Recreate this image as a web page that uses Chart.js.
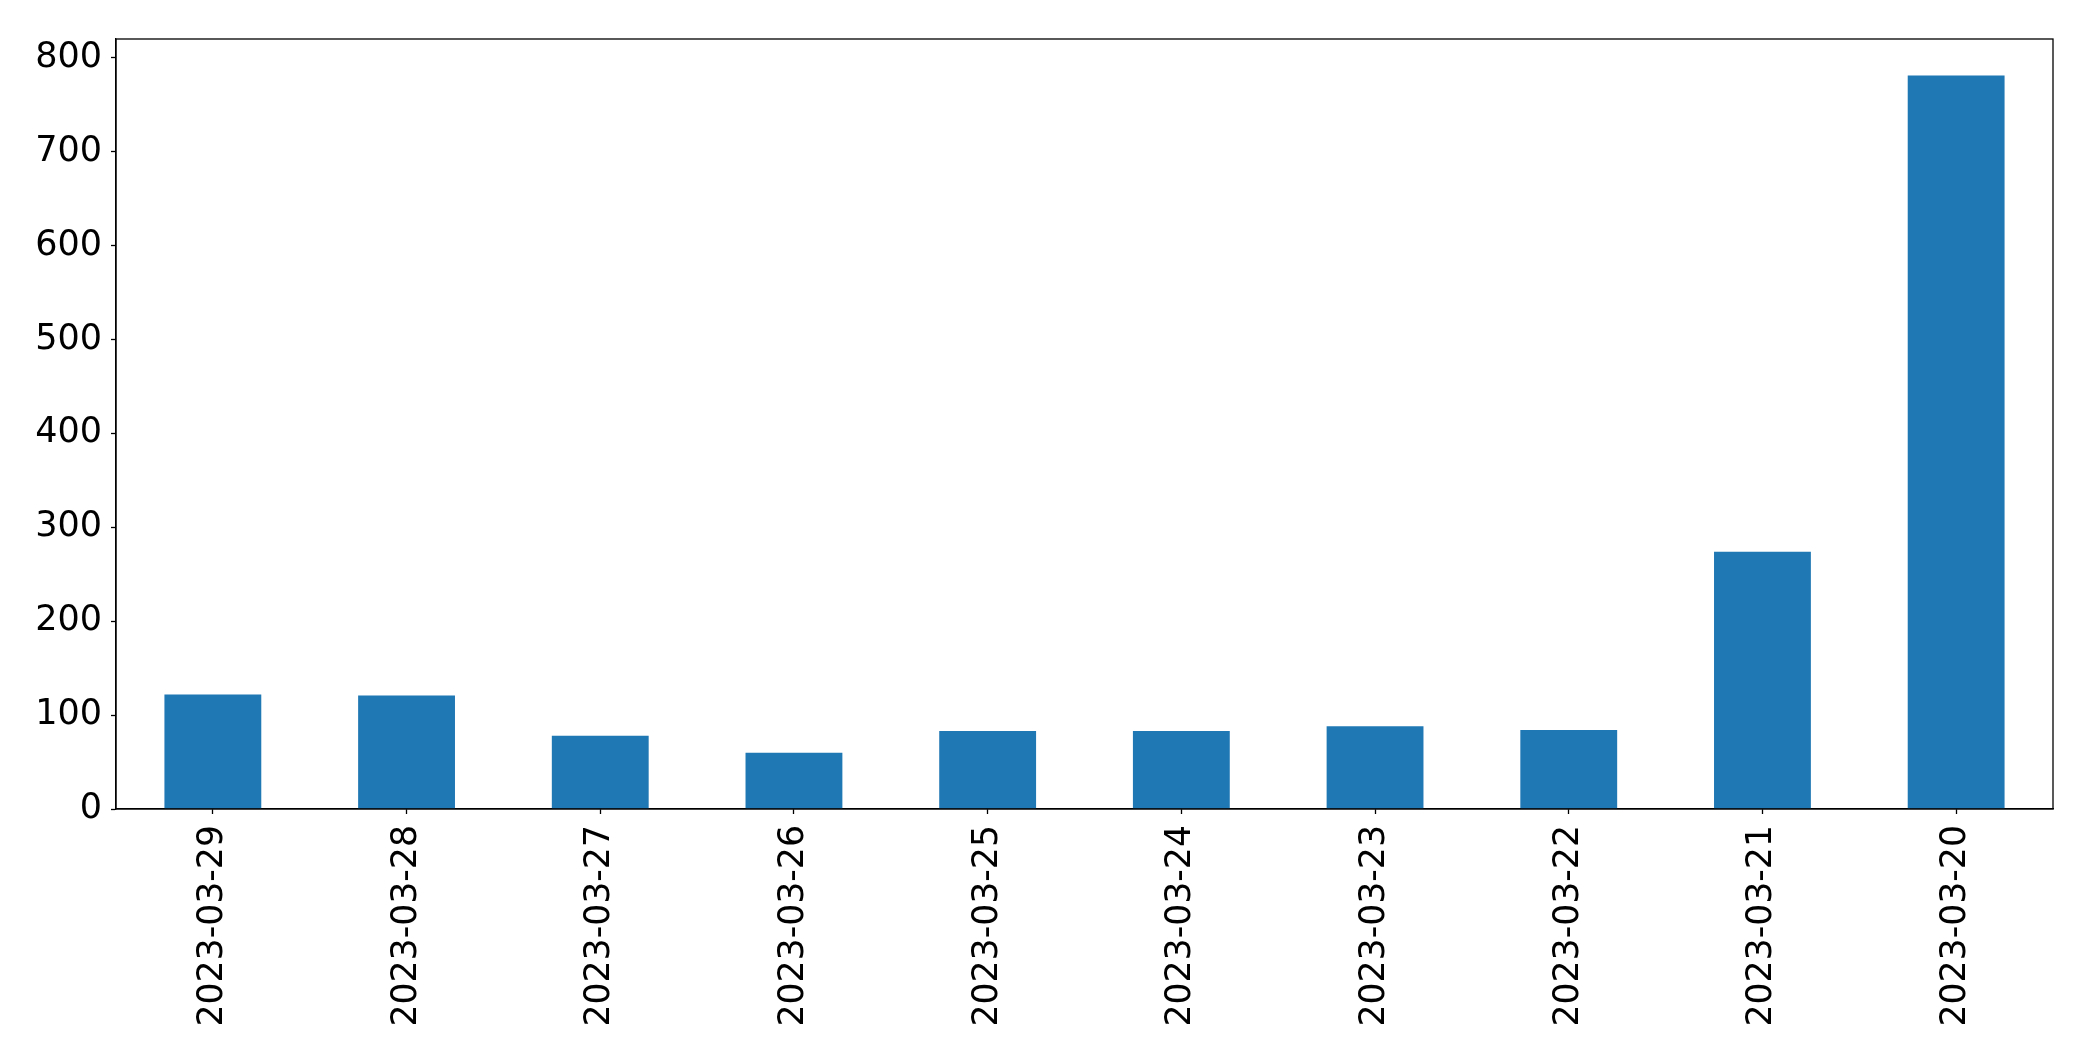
<!DOCTYPE html>
<html>
<head>
<meta charset="utf-8">
<script src="https://cdn.jsdelivr.net/npm/chart.js@4"></script>
<style>
  html, body { margin: 0; padding: 0; background: #fff; }
  #wrap { width: 2093px; height: 1061px; position: relative; }
</style>
</head>
<body>
<div id="wrap"><canvas id="c" width="2093" height="1061"></canvas></div>
<script>
const categories = ["2023-03-29","2023-03-28","2023-03-27","2023-03-26","2023-03-25","2023-03-24","2023-03-23","2023-03-22","2023-03-21","2023-03-20"];
const values = [122, 121, 78, 60, 83, 83, 88, 84, 274, 781];
const yTicks = [0, 100, 200, 300, 400, 500, 600, 700, 800];
const yMin = 0;
const yMax = 820;

const FONT = "'DejaVu Sans', sans-serif";

const framePlugin = {
  id: 'frame',
  afterDraw(chart) {
    const a = chart.chartArea;
    const ctx = chart.ctx;
    ctx.save();
    ctx.strokeStyle = '#000';
    ctx.lineWidth = 1.3;
    ctx.strokeRect(a.left, a.top, a.right - a.left, a.bottom - a.top);
    ctx.restore();
  }
};

new Chart(document.getElementById('c'), {
  type: 'bar',
  data: {
    labels: categories,
    datasets: [{
      data: values,
      backgroundColor: '#1f77b4',
      borderWidth: 0,
      barPercentage: 0.5,
      categoryPercentage: 1.0
    }]
  },
  options: {
    responsive: false,
    animation: false,
    devicePixelRatio: 1,
    layout: { padding: { top: 39, right: 40, bottom: 0, left: 0 } },
    plugins: { legend: { display: false }, tooltip: { enabled: false } },
    scales: {
      x: {
        offset: true,
        grid: { display: true, offset: false, drawOnChartArea: false, tickLength: 5, tickColor: '#000', tickWidth: 1.3 },
        border: { display: true, color: '#000', width: 1.3 },
        ticks: {
          color: '#000',
          font: { family: FONT, size: 34.7 },
          minRotation: 90, maxRotation: 90,
          padding: 11,
          autoSkip: false
        },
        afterFit(scale) { scale.height = 252; }
      },
      y: {
        min: yMin, max: yMax,
        grid: { display: true, drawOnChartArea: false, tickLength: 5, tickColor: '#000', tickWidth: 1.3 },
        border: { display: true, color: '#000', width: 1.3 },
        ticks: {
          color: '#000',
          font: { family: FONT, size: 35 },
          stepSize: 100,
          padding: 9
        },
        afterBuildTicks(scale) { scale.ticks = yTicks.map(v => ({ value: v })); },
        afterFit(scale) { scale.width = 116; }
      }
    }
  },
  plugins: [framePlugin]
});
</script>
</body>
</html>
